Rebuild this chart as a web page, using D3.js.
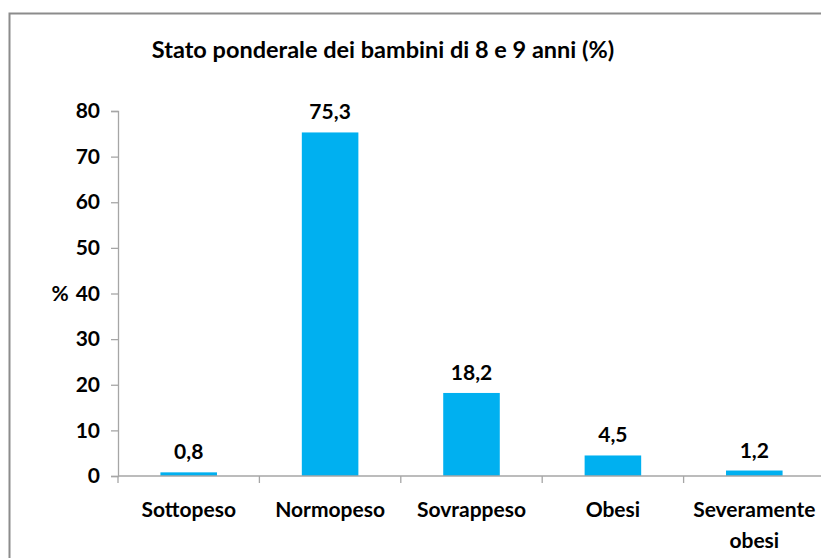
<!DOCTYPE html>
<html><head><meta charset="utf-8">
<script src="https://cdn.jsdelivr.net/npm/d3@7"></script>
<style>
body{margin:0;background:#fff;}
text{font-family:Lato,"Open Sans",sans-serif;font-weight:bold;fill:#000;}
</style></head>
<body><svg id="c" width="821" height="558"></svg>
<script>
const categories = ["Sottopeso","Normopeso","Sovrappeso","Obesi","Severamente obesi"];
const values = [0.8, 75.3, 18.2, 4.5, 1.2];
const valueLabels = ["0,8","75,3","18,2","4,5","1,2"];
const yTicks = [0,10,20,30,40,50,60,70,80];
const title = "Stato ponderale dei bambini di 8 e 9 anni (%)";

const svg = d3.select("#c");
svg.append("rect").attr("x",9.5).attr("y",13.5).attr("width",830).attr("height",560)
  .attr("fill","none").attr("stroke","#8c8c8c").attr("stroke-width",2);

const x = d3.scaleBand().domain(categories).range([118, 825]).paddingInner(0.6).paddingOuter(0.3);
const y = d3.scaleLinear().domain([0,80]).range([476,111]);

svg.append("text").attr("x",383).attr("y",58).attr("text-anchor","middle")
  .style("font-size","23.5px").text(title);

// y axis
const ya = svg.append("g").attr("transform","translate(118,0)")
  .call(d3.axisLeft(y).tickValues(yTicks).tickSize(7).tickPadding(11));
ya.select(".domain").attr("stroke","#a6a6a6").attr("stroke-width",1.3);
ya.selectAll(".tick line").attr("stroke","#a6a6a6").attr("stroke-width",1.3);
ya.selectAll(".tick text").style("font-size","21px").style("font-family","Lato,sans-serif").attr("font-weight","bold");

svg.append("text").attr("x",60).attr("y",y(40)).attr("dy","0.35em").attr("text-anchor","middle")
  .style("font-size","21px").text("%");

// bars
svg.selectAll("rect.bar").data(values).join("rect").attr("class","bar")
  .attr("x",(d,i)=>x(categories[i])).attr("width",x.bandwidth())
  .attr("y",d=>y(d)).attr("height",d=>y(0)-y(d)).attr("fill","#00b0f0");

svg.selectAll("text.val").data(values).join("text").attr("class","val")
  .attr("x",(d,i)=>x(categories[i])+x.bandwidth()/2).attr("y",d=>y(d)-13)
  .attr("text-anchor","middle").style("font-size","21px")
  .text((d,i)=>valueLabels[i]);

// x axis
const step = (825-118)/categories.length;
const g = svg.append("g");
g.append("line").attr("x1",118).attr("x2",825).attr("y1",y(0)).attr("y2",y(0))
  .attr("stroke","#a6a6a6").attr("stroke-width",1.3);
g.selectAll("line.t").data(d3.range(categories.length+1)).join("line").attr("class","t")
  .attr("x1",i=>118+i*step).attr("x2",i=>118+i*step).attr("y1",y(0)).attr("y2",y(0)+7)
  .attr("stroke","#a6a6a6").attr("stroke-width",1.3);
const xl = g.selectAll("text.xl").data(categories).join("text").attr("class","xl")
  .attr("x",d=>x(d)+x.bandwidth()/2).attr("y",517).attr("text-anchor","middle")
  .style("font-size","21px");
xl.each(function(d){
  const parts = d==="Severamente obesi" ? ["Severamente","obesi"] : [d];
  const t = d3.select(this);
  parts.forEach((p,k)=>t.append("tspan").attr("x",t.attr("x")).attr("dy",k?31:0).text(p));
});
</script></body></html>
